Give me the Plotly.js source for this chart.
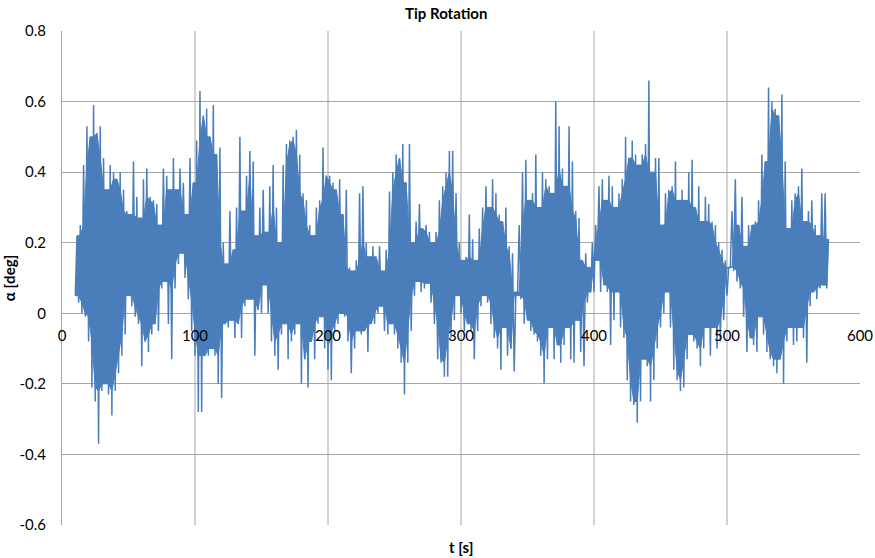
<!DOCTYPE html>
<html>
<head>
<meta charset="utf-8">
<script src="https://cdn.plot.ly/plotly-3.0.1.min.js"></script>
<style>html,body{margin:0;padding:0;background:#fff;}#chart{width:875px;height:558px;}</style>
</head>
<body>
<div id="chart"></div>
<script>
// Sampling of the read-off envelope: first sample time and spacing (s)
const tStart = 10;
const tStep = 2.5;

// Local maxima of alpha [deg], one per 2.5 s window
const upperPeaks = [
0.22,0.25,0.42,0.53,0.50,0.59,0.51,0.53,0.44,0.35,0.42,0.40,0.38,0.40,0.35,0.29,0.28,0.43,0.33,0.27,
0.38,0.41,0.33,0.32,0.31,0.25,0.41,0.39,0.35,0.44,0.35,0.41,0.37,0.28,0.44,0.37,0.49,0.63,0.56,0.58,
0.50,0.59,0.45,0.47,0.20,0.14,0.29,0.18,0.30,0.50,0.29,0.39,0.46,0.43,0.22,0.30,0.35,0.23,0.36,0.42,
0.30,0.20,0.42,0.48,0.49,0.50,0.52,0.45,0.34,0.32,0.25,0.22,0.30,0.32,0.47,0.39,0.39,0.37,0.35,0.38,
0.28,0.35,0.13,0.12,0.15,0.34,0.36,0.20,0.16,0.19,0.16,0.19,0.12,0.18,0.345,0.40,0.45,0.44,0.48,0.37,
0.48,0.20,0.26,0.31,0.24,0.25,0.23,0.20,0.23,0.32,0.36,0.40,0.46,0.46,0.34,0.20,0.15,0.16,0.28,0.21,
0.15,0.24,0.30,0.36,0.30,0.38,0.34,0.28,0.26,0.30,0.19,0.17,0.06,0.25,0.40,0.435,0.32,0.34,0.45,0.30,
0.40,0.38,0.36,0.34,0.60,0.53,0.41,0.36,0.53,0.43,0.29,0.27,0.15,0.17,0.13,0.20,0.25,0.36,0.38,0.32,
0.39,0.36,0.30,0.34,0.38,0.50,0.44,0.49,0.45,0.42,0.45,0.48,0.66,0.40,0.44,0.44,0.25,0.34,0.35,0.36,
0.43,0.32,0.35,0.32,0.40,0.435,0.30,0.36,0.26,0.33,0.31,0.26,0.25,0.20,0.18,0.15,0.13,0.29,0.38,0.25,
0.33,0.19,0.25,0.25,0.26,0.32,0.45,0.43,0.64,0.60,0.58,0.56,0.62,0.43,0.24,0.32,0.34,0.36,0.41,0.26,
0.29,0.32,0.25,0.22,0.34,0.34,0.21
];

// Local minima of alpha [deg], one per 2.5 s window
const lowerPeaks = [
0.05,0.03,0.00,-0.01,-0.08,-0.21,-0.25,-0.37,-0.22,-0.20,-0.23,-0.29,-0.22,-0.17,-0.12,-0.06,0.05,0.02,-0.01,-0.03,
-0.15,-0.08,-0.11,-0.06,-0.03,-0.05,0.07,0.09,-0.03,-0.13,0.07,0.14,0.17,0.10,0.04,-0.05,-0.12,-0.28,-0.28,-0.12,
-0.12,-0.10,-0.12,-0.20,-0.24,-0.03,-0.04,-0.02,-0.07,-0.03,-0.07,0.02,0.04,0.04,-0.12,0.01,0.00,0.08,0.00,-0.08,
-0.12,-0.16,-0.06,-0.03,-0.13,-0.08,-0.06,-0.03,-0.20,-0.13,-0.21,-0.08,-0.13,-0.03,-0.01,-0.10,-0.16,-0.19,-0.05,-0.03,
0.00,-0.01,-0.08,-0.17,-0.10,-0.05,-0.06,-0.05,-0.11,-0.03,-0.03,0.00,0.02,-0.05,-0.06,-0.03,-0.06,-0.10,-0.14,-0.23,
-0.14,-0.05,0.05,0.09,0.06,0.07,0.085,0.03,-0.03,-0.13,-0.14,-0.18,-0.18,-0.07,-0.02,0.05,0.00,-0.05,-0.03,-0.05,
-0.13,-0.05,0.02,0.05,0.03,-0.03,-0.07,-0.10,-0.16,-0.04,-0.12,-0.10,-0.165,0.05,0.04,-0.03,-0.02,-0.05,-0.06,-0.08,
-0.12,-0.20,-0.13,-0.04,-0.13,-0.09,-0.14,-0.09,-0.04,-0.13,-0.14,-0.02,-0.11,-0.15,0.03,0.06,0.06,0.15,0.06,0.08,
0.06,-0.09,-0.02,0.06,-0.04,-0.07,-0.19,-0.25,-0.26,-0.31,-0.25,-0.13,-0.15,-0.25,-0.19,-0.10,-0.04,0.00,0.06,-0.04,
-0.16,-0.19,-0.22,-0.21,-0.13,-0.06,-0.08,-0.10,-0.15,-0.10,-0.04,-0.12,-0.04,-0.10,-0.08,-0.02,0.05,0.13,0.12,0.09,
0.07,-0.01,-0.11,-0.07,-0.09,-0.11,-0.01,-0.06,-0.11,-0.13,-0.15,-0.17,-0.13,-0.20,-0.08,-0.04,-0.09,-0.08,-0.04,-0.07,
-0.14,0.02,0.06,0.04,0.07,0.08,0.07
];

const xTicks = [0, 100, 200, 300, 400, 500, 600];
const yTicks = [-0.6, -0.4, -0.2, 0, 0.2, 0.4, 0.6, 0.8];
const yTickText = ['-0.6', '-0.4', '-0.2', '0', '0.2', '0.4', '0.6', '0.8'];

// Interleave minima and maxima into the oscillating time series
const tSeries = [];
const aSeries = [];
for (let i = 0; i < upperPeaks.length; i++) {
  const t = tStart + i * tStep;
  tSeries.push(t); aSeries.push(lowerPeaks[i]);
  tSeries.push(t + tStep / 2); aSeries.push(upperPeaks[i]);
}

// Dense core of the oscillation: the band every neighbouring swing reaches
const n = upperPeaks.length;
const coreX = [], coreY = [];
for (let i = 0; i < n; i++) {
  const a = Math.max(0, i - 1), b = Math.min(n - 1, i + 1);
  coreX.push(tStart + i * tStep + tStep / 2);
  coreY.push(Math.min(upperPeaks[a], upperPeaks[i], upperPeaks[b]));
}
for (let i = n - 1; i >= 0; i--) {
  const a = Math.max(0, i - 1), b = Math.min(n - 1, i + 1);
  coreX.push(tStart + i * tStep);
  coreY.push(Math.max(lowerPeaks[a], lowerPeaks[i], lowerPeaks[b]));
}

const yMin = -0.6, yMax = 0.8;
const zeroFrac = (0 - yMin) / (yMax - yMin);

const gridColor = '#a6a6a6';
const lineColor = '#4a7ebb';
const fontFam = 'Lato, "Open Sans", "Liberation Sans", sans-serif';

const core = {
  x: coreX, y: coreY, type: 'scatter', mode: 'lines', fill: 'toself',
  fillcolor: lineColor, line: {color: lineColor, width: 1}, hoverinfo: 'skip'
};
const trace = {
  x: tSeries, y: aSeries, type: 'scatter', mode: 'lines',
  line: {color: lineColor, width: 1.5},
  hoverinfo: 'skip'
};

// Vertical grid lines (none at the right end, like the reference)
const gridShapes = xTicks.filter(v => v > 0 && v < 600).map(v => ({
  type: 'line', xref: 'x', yref: 'paper', x0: v, x1: v, y0: 0, y1: 1,
  line: {color: gridColor, width: 1}, layer: 'below'
}));

const layout = {
  width: 875, height: 558,
  margin: {l: 62, r: 15, t: 31, b: 33},
  paper_bgcolor: '#ffffff', plot_bgcolor: '#ffffff',
  showlegend: false,
  shapes: gridShapes,
  title: {text: '<b>Tip Rotation</b>', x: 0.51, xanchor: 'center', y: 0.975, yanchor: 'middle',
          font: {family: fontFam, size: 15, color: '#000'}},
  xaxis: {
    range: [0, 600], tickvals: xTicks, ticktext: xTicks.map(String),
    showgrid: false,
    zeroline: false, showline: false, ticks: '',
    anchor: 'free', position: zeroFrac,
    tickfont: {family: fontFam, size: 15, color: '#000'},
    ticklabelstandoff: 12
  },
  yaxis: {
    range: [yMin, yMax], tickvals: yTicks, ticktext: yTickText,
    showgrid: true, gridcolor: gridColor, gridwidth: 1,
    zeroline: true, zerolinecolor: gridColor, zerolinewidth: 1,
    showline: true, linecolor: gridColor, linewidth: 1, ticks: '',
    tickfont: {family: fontFam, size: 15, color: '#000'},
    ticklabelstandoff: 12,
    title: {text: '<b>α [deg]</b>', font: {family: fontFam, size: 15, color: '#000'}, standoff: 10}
  },
  annotations: [{
    text: '<b>t [s]</b>', xref: 'paper', yref: 'paper', x: 0.5, y: 0, yshift: -22,
    xanchor: 'center', yanchor: 'middle', showarrow: false,
    font: {family: fontFam, size: 15, color: '#000'}
  }]
};

Plotly.newPlot('chart', [core, trace], layout, {staticPlot: true, displayModeBar: false});
</script>
</body>
</html>
